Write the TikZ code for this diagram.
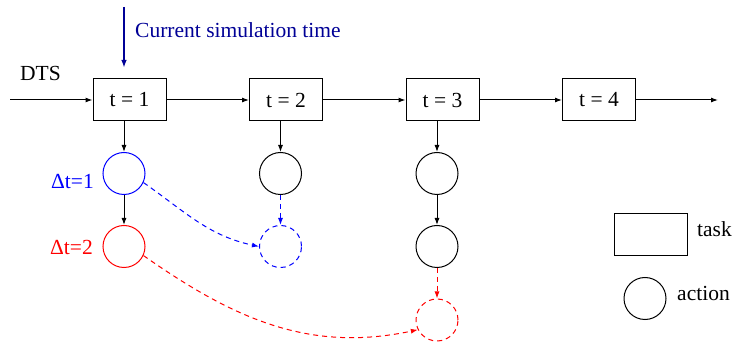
\documentclass[tikz,border=0pt]{standalone}
\usepackage{fontspec}
\setmainfont{Liberation Serif}
\usetikzlibrary{arrows.meta}
\definecolor{navyc}{RGB}{0,0,150}
\begin{document}
\begin{tikzpicture}[x=1pt,y=1pt, font=\fontsize{21.5}{25}\selectfont,
 task/.style={draw, line width=1pt, minimum width=73pt, minimum height=42pt, inner sep=0pt},
 act/.style={draw, circle, line width=1pt, minimum size=42pt, inner sep=0pt},
 arr/.style={-{Latex[length=7pt,width=5pt]}, line width=1pt},
 dsh/.style={dash pattern=on 5pt off 4pt}]
\useasboundingbox (0,0) rectangle (732,343);
% tasks
\node[task] (t1) at (129.5,243) {t = 1};
\node[task] (t2) at (286,243) {t = 2};
\node[task] (t3) at (442.5,243) {t = 3};
\node[task] (t4) at (599,243) {t = 4};
\coordinate (start) at (10,243);
\coordinate (end) at (718,243);
\draw[arr] (start) -- (t1);
\draw[arr] (t1) -- (t2);
\draw[arr] (t2) -- (t3);
\draw[arr] (t3) -- (t4);
\draw[arr] (t4) -- (end);
\node (dts) at (40.5,269.5) {DTS};
% current time
\coordinate (cs) at (124,336);
\coordinate (ce) at (124,275);
\draw[navyc, line width=1.8pt, -{Latex[length=8pt,width=5.5pt]}] (cs) -- (ce);
\node[anchor=west, navyc, inner sep=0pt] (cur) at (135,313) {Current simulation time};
% actions
\node[act, draw=blue] (a11) at (124,169.5) {};
\node[act, draw=red] (a12) at (124,96.5) {};
\node[act] (a21) at (280.5,169.5) {};
\node[act, draw=blue, dsh] (a22) at (280.5,96.5) {};
\node[act] (a31) at (437,169.5) {};
\node[act] (a32) at (437,96.5) {};
\node[act, draw=red, dsh] (a33) at (437,23) {};
\draw[arr] (t1.south -| a11) -- (a11);
\draw[arr] (a11) -- (a12);
\draw[arr] (t2.south -| a21) -- (a21);
\draw[arr] (t3.south -| a31) -- (a31);
\draw[arr] (a31) -- (a32);
\draw[arr, blue, dsh] (a21) -- (a22);
\draw[arr, red, dsh] (a32) -- (a33);
\draw[arr, blue, dsh] (a11.-25) to[out=-35, in=168] (a22.west);
\draw[arr, red, dsh] (a12.-25) to[out=-35, in=192] (a33.-153);
\node[blue, anchor=east, inner sep=0pt] (l1) at (94,161) {Δt=1};
\node[red, anchor=east, inner sep=0pt] (l2) at (93,96) {Δt=2};
% legend
\node[task] (lt) at (650.5,108) {};
\node[act] (la) at (645,44.5) {};
\node[anchor=west, inner sep=0pt] (ltt) at (697,114) {task};
\node[anchor=west, inner sep=0pt] (lat) at (677,49.5) {action};
\end{tikzpicture}
\end{document}
